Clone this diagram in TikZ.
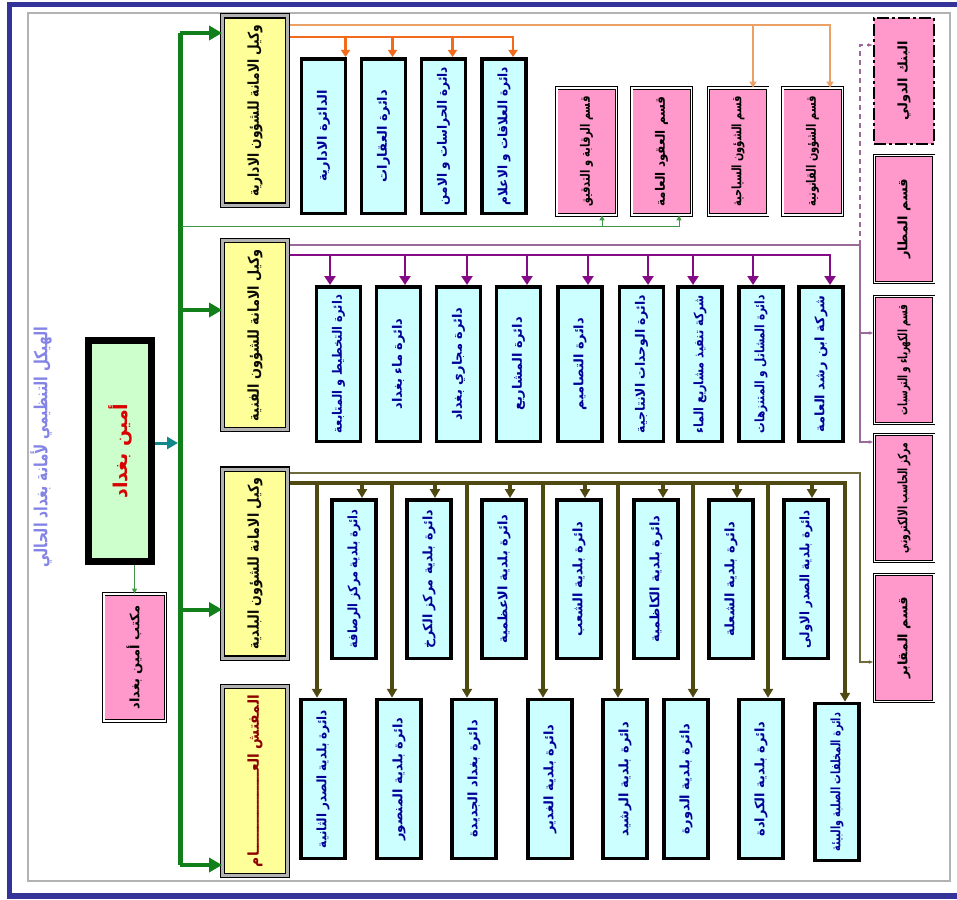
\documentclass[tikz,border=0pt]{standalone}
\usepackage{fontspec}
\usepackage{graphicx}
\usetikzlibrary{arrows.meta,calc}
\newfontfamily\arfont[Script=Arabic, BoldFont={DejaVu Sans Bold}]{DejaVu Sans}
\TeXXeTstate=1
\definecolor{frameblue}{HTML}{333399}
\definecolor{cyanfill}{HTML}{CCFFFF}
\definecolor{cyantext}{HTML}{000099}
\definecolor{pinkfill}{HTML}{FF99CC}
\definecolor{yelfill}{HTML}{FFFF99}
\definecolor{mainfill}{HTML}{CCFFCC}
\definecolor{busgreen}{HTML}{11801A}
\definecolor{tealarr}{HTML}{12888A}
\definecolor{orthick}{HTML}{F26A1B}
\definecolor{orthin}{HTML}{EBA066}
\definecolor{purp}{HTML}{850A85}
\definecolor{purpthin}{HTML}{9A6A9A}
\definecolor{olive}{HTML}{4E4A12}
\definecolor{olivethin}{HTML}{6E6A3A}
\definecolor{titleblue}{HTML}{8484E6}
\newsavebox{\arbox}
% vertical arabic label, squeezed when longer than #1
\newcommand{\vtxt}[2][138pt]{%
  \sbox{\arbox}{\arfont\beginR #2\endR}%
  \ifdim\wd\arbox>#1\relax
    \rotatebox{90}{\resizebox{#1}{\height}{\usebox{\arbox}}}%
  \else
    \rotatebox{90}{\usebox{\arbox}}%
  \fi}

\begin{document}
\begin{tikzpicture}[
    x=1pt, y=1pt,
    cyanbox/.style={draw=black, line width=3.5pt, fill=cyanfill, text=cyantext, inner sep=0pt,
                    minimum width=44pt, minimum height=154.5pt, font=\bfseries\fontsize{13}{15}\selectfont},
    pinkbox/.style={draw=black, double, double distance=1.5pt, line width=0.8pt, fill=pinkfill,
                    inner sep=0pt, minimum width=59.5pt, minimum height=127pt, font=\bfseries\fontsize{13}{15}\selectfont},
    yelbox/.style={draw=black, double=gray!60, double distance=3pt, line width=1.2pt, fill=yelfill,
                   text=black!85!olive, inner sep=0pt, minimum width=64.6pt, minimum height=189pt,
                   font=\bfseries\fontsize{15}{17}\selectfont},
    mainbox/.style={draw=black, line width=7pt, fill=mainfill, text=red!85!black, inner sep=0pt,
                    minimum width=63pt, minimum height=221pt, font=\bfseries\fontsize{19}{21}\selectfont},
    gbus/.style={draw=busgreen, line width=5pt},
    garrow/.style={draw=busgreen, line width=4pt, -{Triangle[length=13pt,width=14pt]}},
    gthin/.style={draw=busgreen!80, line width=1pt, -{Triangle[length=5pt,width=5pt]}},
    othick/.style={draw=orthick, line width=2.5pt, -{Triangle[length=7pt,width=9pt]}},
    othin/.style={draw=orthin, line width=1.2pt, -{Triangle[length=6pt,width=7pt]}},
    pthick/.style={draw=purp, line width=2.8pt, -{Triangle[length=9pt,width=11pt]}},
    pthin/.style={draw=purpthin, line width=1.2pt},
    lthick/.style={draw=olive, line width=3.2pt, -{Triangle[length=9pt,width=10pt]}},
    lthin/.style={draw=olivethin, line width=1.2pt}
  ]
  \useasboundingbox (0,0) rectangle (957,-899);
  % frames
  \draw[frameblue, line width=5.5pt] (957,-4.5) -- (9.5,-4.5) -- (9.5,-896) -- (957,-896);
  \draw[gray!60, line width=1.5pt] (28,-13) rectangle (950,-881);

  % head
  \node[text=titleblue, font=\bfseries\fontsize{18}{20}\selectfont] (ttl) at (41,-447)
       {\vtxt[240pt]{الهيكل التنظيمي لأمانة بغداد الحالي}};
  \node[mainbox] (amin) at (120,-451) {\vtxt[200pt]{أمين بغداد}};
  \node[pinkbox, minimum width=61.5pt] (mkt) at (134.5,-657.5) {\vtxt[110pt]{مكتب أمين بغداد}};

  % deputies
  \node[yelbox] (wk1) at (255,-110.5) {\vtxt[172pt]{وكيل الامانة للشؤون الادارية}};
  \node[yelbox] (wk2) at (255,-335) {\vtxt[172pt]{وكيل الامانة للشؤون الفنية}};
  \node[yelbox] (wk3) at (255,-563.5) {\vtxt[172pt]{وكيل الامانة للشؤون البلدية}};
  \node[yelbox, text=red!55!black] (wk4) at (255,-781) {\vtxt[172pt]{المفتش العـــــــــــــــــام}};

  % administrative
  \node[cyanbox] (r1a) at (323.5,-136) {\vtxt{الدائرة الادارية}};
  \node[cyanbox] (r1b) at (383.5,-136) {\vtxt{دائرة العقارات}};
  \node[cyanbox] (r1c) at (443.5,-136) {\vtxt{دائرة الحراسات و الامن}};
  \node[cyanbox] (r1d) at (504,-136) {\vtxt{دائرة العلاقات و الاعلام}};
  \node[pinkbox] (q1) at (586.5,-151.5) {\vtxt[110pt]{قسم الرقابة و التدقيق}};
  \node[pinkbox] (q2) at (661.5,-151.5) {\vtxt[110pt]{قسم العقود العامة}};
  \node[pinkbox] (q3) at (738,-151.5) {\vtxt[110pt]{قسم الشؤون السياحية}};
  \node[pinkbox] (q4) at (812.5,-151.5) {\vtxt[110pt]{قسم الشؤون القانونية}};

  % right column
  \node[pinkbox, draw=black, double=none, line width=2pt, minimum width=60pt, minimum height=126pt,
        dash pattern=on 12pt off 3pt on 3pt off 3pt] (s1) at (904,-81) {\vtxt[110pt]{البنك الدولي}};
  \node[pinkbox] (s2) at (904,-219) {\vtxt[110pt]{قسم المطار}};
  \node[pinkbox] (s3) at (904,-360) {\vtxt[110pt]{قسم الكهرباء و الترسبات}};
  \node[pinkbox] (s4) at (904,-498) {\vtxt[110pt]{مركز الحاسب الالكتروني}};
  \node[pinkbox] (s5) at (904,-638) {\vtxt[110pt]{قسم المقابر}};

  % technical
  \node[cyanbox] (b1) at (338.5,-364) {\vtxt{دائرة التخطيط و المتابعة}};
  \node[cyanbox] (b2) at (398.5,-364) {\vtxt{دائرة ماء بغداد}};
  \node[cyanbox] (b3) at (458.5,-364) {\vtxt{دائرة مجاري بغداد}};
  \node[cyanbox] (b4) at (518.5,-364) {\vtxt{دائرة المشاريع}};
  \node[cyanbox] (b5) at (580,-364) {\vtxt{دائرة التصاميم}};
  \node[cyanbox] (b6) at (641.5,-364) {\vtxt{دائرة الوحدات الانتاجية}};
  \node[cyanbox] (b7) at (700,-364) {\vtxt{شركة تنفيذ مشاريع الماء}};
  \node[cyanbox] (b8) at (761,-364) {\vtxt{دائرة المشاتل و المتنزهات}};
  \node[cyanbox] (b9) at (821,-364) {\vtxt{شركة ابن رشد العامة}};

  % municipal
  \node[cyanbox, minimum height=158.5pt] (c1) at (354,-579) {\vtxt{دائرة بلدية مركز الرصافة}};
  \node[cyanbox, minimum height=158.5pt] (c2) at (429,-579) {\vtxt{دائرة بلدية مركز الكرخ}};
  \node[cyanbox, minimum height=158.5pt] (c3) at (504,-579) {\vtxt{دائرة بلدية الاعظمية}};
  \node[cyanbox, minimum height=158.5pt] (c4) at (579,-579) {\vtxt{دائرة بلدية الشعب}};
  \node[cyanbox, minimum height=158.5pt] (c5) at (656,-579) {\vtxt{دائرة بلدية الكاظمية}};
  \node[cyanbox, minimum height=158.5pt] (c6) at (731,-579) {\vtxt{دائرة بلدية الشعلة}};
  \node[cyanbox, minimum height=158.5pt] (c7) at (806,-579) {\vtxt{دائرة بلدية الصدر الاولى}};

  \node[cyanbox, minimum height=159pt] (d1) at (323,-779) {\vtxt{دائرة بلدية الصدر الثانية}};
  \node[cyanbox, minimum height=159pt] (d2) at (399,-779) {\vtxt{دائرة بلدية المنصور}};
  \node[cyanbox, minimum height=159pt] (d3) at (474,-779) {\vtxt{دائرة بغداد الجديدة}};
  \node[cyanbox, minimum height=159pt] (d4) at (550,-779) {\vtxt{دائرة بلدية الغدير}};
  \node[cyanbox, minimum height=159pt] (d5) at (625,-779) {\vtxt{دائرة بلدية الرشيد}};
  \node[cyanbox, minimum height=159pt] (d6) at (686,-779) {\vtxt{دائرة بلدية الدورة}};
  \node[cyanbox, minimum height=159pt] (d7) at (761,-779) {\vtxt{دائرة بلدية الكرادة}};
  \node[cyanbox, minimum height=157pt] (d8) at (837,-782) {\vtxt{دائرة المخلفات الصلبة والبيئة}};

  % green bus
  \coordinate (gt) at (180,-33);
  \coordinate (gb) at (180,-865);
  \draw[gbus] (gt) -- (gb);
  \draw[garrow] (gt) -- (wk1.west |- gt);
  \draw[garrow] ([yshift=25pt]wk2.west -| gt) -- ([yshift=25pt]wk2.west);
  \draw[garrow] ([yshift=-46pt]wk3.west -| gt) -- ([yshift=-46pt]wk3.west);
  \draw[garrow] (gb) -- (wk4.west |- gb);
  \draw[draw=tealarr, line width=3pt, -{Triangle[length=11pt,width=12pt]}, shorten >=2pt]
       ([yshift=8pt]amin.east) -- ([yshift=8pt]amin.east -| gt);
  \draw[gthin] (amin.south -| mkt.north) -- (mkt.north);

  % administrative links
  \coordinate (ob) at (290,-37);
  \draw[othick] (ob) -| ([xshift=9pt]r1d.north);
  \foreach \n/\dx in {r1a/22,r1b/9,r1c/9}
    \draw[othick] ([xshift=\dx pt]\n.north |- ob) -- ([xshift=\dx pt]\n.north);
  \coordinate (ot) at (290,-25);
  \draw[othin] (ot) -| ([xshift=17.5pt]q4.north);
  \draw[othin] ([xshift=15pt]q3.north |- ot) -- ([xshift=15pt]q3.north);
  \coordinate (gl) at (182,-226);
  \draw[gthin] (gl) -| ([xshift=17.5pt]q2.south);
  \draw[gthin] ([xshift=15.5pt]q1.south |- gl) -- ([xshift=15.5pt]q1.south);

  % technical links
  \coordinate (pb) at (290,-255);
  \draw[pthick] (pb) -| ([xshift=9pt]b9.north);
  \foreach \n/\dx in {b1/-8.5,b2/6.5,b3/8.5,b4/8.5,b5/8,b6/6.5,b7/-7,b8/-8}
    \draw[pthick] ([xshift=\dx pt]\n.north |- pb) -- ([xshift=\dx pt]\n.north);
  \coordinate (pt) at (290,-245);
  \coordinate (pv) at (860,-245);
  \draw[pthin] (pt) -- (pv);
  \draw[pthin, -{Latex[length=5pt]}] (pv) |- ([yshift=56pt]s4.west);
  \draw[pthin, -{Latex[length=5pt]}] ([yshift=27pt]s3.west -| pv) -- ([yshift=27pt]s3.west);
  \draw[pthin, dashed, dash pattern=on 5pt off 4pt, -{Latex[length=5pt]}] (pv) |- ([yshift=36pt]s1.west);

  % municipal links
  \coordinate (lb) at (290,-483);
  \draw[lthick] (lb) -| ([xshift=8pt]d8.north);
  \foreach \n/\dx in {c1/8,c2/6,c3/6,c4/6,c5/7,c6/6,c7/6}
    \draw[lthick] ([xshift=\dx pt]\n.north |- lb) -- ([xshift=\dx pt]\n.north);
  \foreach \n/\dx in {d1/-6,d2/-7,d3/-7,d4/-7,d5/-7,d6/7,d7/7}
    \draw[lthick] ([xshift=\dx pt]\n.north |- lb) -- ([xshift=\dx pt]\n.north);
  \coordinate (lt) at (290,-473);
  \coordinate (lv) at (860,-473);
  \draw[lthin, -{Latex[length=5pt]}] (lt) -- (lv) |- ([yshift=-24pt]s5.west);
\end{tikzpicture}
\end{document}
